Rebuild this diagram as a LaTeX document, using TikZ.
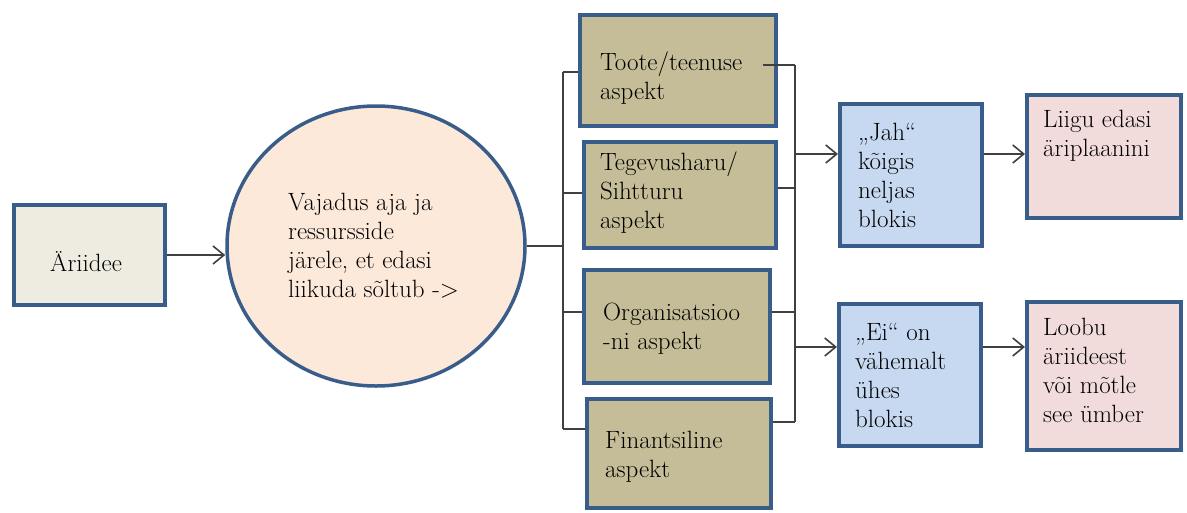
\documentclass[tikz,border=0pt]{standalone}
\usetikzlibrary{shapes.geometric,arrows.meta,calc}
\definecolor{bord}{HTML}{385D8A}
\definecolor{fidea}{HTML}{EEECE1}
\definecolor{fcirc}{HTML}{FDE9D9}
\definecolor{fasp}{HTML}{C4BD97}
\definecolor{fblue}{HTML}{C6D9F1}
\definecolor{fpink}{HTML}{F2DCDB}
\definecolor{conncol}{HTML}{404040}
\tikzset{
  boxbase/.style={draw=bord, line width=4pt, rectangle, inner sep=0pt},
  ideabox/.style={boxbase, fill=fidea},
  aspbox/.style={boxbase, fill=fasp},
  bluebox/.style={boxbase, fill=fblue},
  pinkbox/.style={boxbase, fill=fpink},
  circbox/.style={draw=bord, line width=3.5pt, ellipse, fill=fcirc, inner sep=0pt},
  txt/.style={anchor=base west, inner sep=0pt, text=black, font=\fontsize{25}{29}\selectfont},
  conn/.style={draw=conncol, line width=1.6pt},
  arr/.style={conn, -{Straight Barb[length=11pt,width=18pt,line width=1.6pt]}},
}
\begin{document}
\begin{tikzpicture}[x=1pt,y=-1pt]
\useasboundingbox (0,0) rectangle (1187,512);
% boxes
\node[ideabox, minimum width=151, minimum height=100] (idea) at (89.5,255) {};
\node[circbox, minimum width=298, minimum height=280] (circ) at (376,246) {};
\node[aspbox, minimum width=196, minimum height=111] (toote) at (678,70.5) {};
\node[aspbox, minimum width=192, minimum height=106] (tegev) at (680,195) {};
\node[aspbox, minimum width=186, minimum height=113] (org) at (677,326.5) {};
\node[aspbox, minimum width=184, minimum height=109] (fin) at (679,453.5) {};
\node[bluebox, minimum width=142, minimum height=142] (jah) at (911,175) {};
\node[pinkbox, minimum width=154, minimum height=123] (liigu) at (1104,156.5) {};
\node[bluebox, minimum width=142, minimum height=142] (ei) at (910,375) {};
\node[pinkbox, minimum width=154, minimum height=148] (loobu) at (1104,376) {};
% texts
\node[txt] (tidea) at (50,271) {Äriidee};
\node[txt] (tcirc) at (288,210) {\vtop{\hbox{Vajadus aja ja}\hbox{ressursside}\hbox{järele, et edasi}\hbox{liikuda sõltub ->}}};
\node[txt] (ttoote) at (600,70) {\vtop{\hbox{Toote/teenuse}\hbox{aspekt}}};
\node[txt] (ttegev) at (600,170) {\vtop{\hbox{Tegevusharu/}\hbox{Sihtturu}\hbox{aspekt}}};
\node[txt] (torg) at (603,320) {\vtop{\hbox{Organisatsioo}\hbox{-ni aspekt}}};
\node[txt] (tfin) at (605,448) {\vtop{\hbox{Finantsiline}\hbox{aspekt}}};
\node[txt] (tjah) at (858,140) {\vtop{\hbox{„Jah“}\hbox{kõigis}\hbox{neljas}\hbox{blokis}}};
\node[txt] (tliigu) at (1043,127) {\vtop{\hbox{Liigu edasi}\hbox{äriplaanini}}};
\node[txt] (tei) at (855,340) {\vtop{\hbox{„Ei“ on}\hbox{vähemalt}\hbox{ühes}\hbox{blokis}}};
\node[txt] (tloobu) at (1043,335) {\vtop{\hbox{Loobu}\hbox{äriideest}\hbox{või mõtle}\hbox{see ümber}}};
% bus coordinates
\coordinate (lt) at (563,72);
\coordinate (lb) at (563,429);
\coordinate (rt) at (795,65);
\coordinate (rb) at (795,422);
\coordinate (ytoote) at (763,65);
\coordinate (ytegev) at (0,188);
\coordinate (yorg) at (0,312);
\coordinate (yorgL) at (0,312);
\coordinate (ytegL) at (0,193);
\coordinate (yjah) at (0,154);
\coordinate (yei) at (0,347);
% connectors
\draw[arr] (idea.east) -- (idea.east -| circ.west);
\draw[conn] (circ.east) -- (circ.east -| lt);
\draw[conn] (lt) -- (lb);
\draw[conn] (lt) -- (lt -| toote.west);
\draw[conn] (lt |- ytegL) -- (tegev.west |- ytegL);
\draw[conn] (lt |- yorgL) -- (org.west |- yorgL);
\draw[conn] (lb) -- (lb -| fin.west);
\draw[conn] (rt) -- (rb);
\draw[conn] (ytoote) -- (rt);
\draw[conn] (tegev.east |- ytegev) -- (rt |- ytegev);
\draw[conn] (org.east |- yorg) -- (rt |- yorg);
\draw[conn] (fin.east |- rb) -- (rb);
\draw[arr] (rt |- yjah) -- (jah.west |- yjah);
\draw[arr] (rt |- yei) -- (ei.west |- yei);
\draw[arr] (jah.east |- yjah) -- (liigu.west |- yjah);
\draw[arr] (ei.east |- yei) -- (loobu.west |- yei);
\end{tikzpicture}
\end{document}
